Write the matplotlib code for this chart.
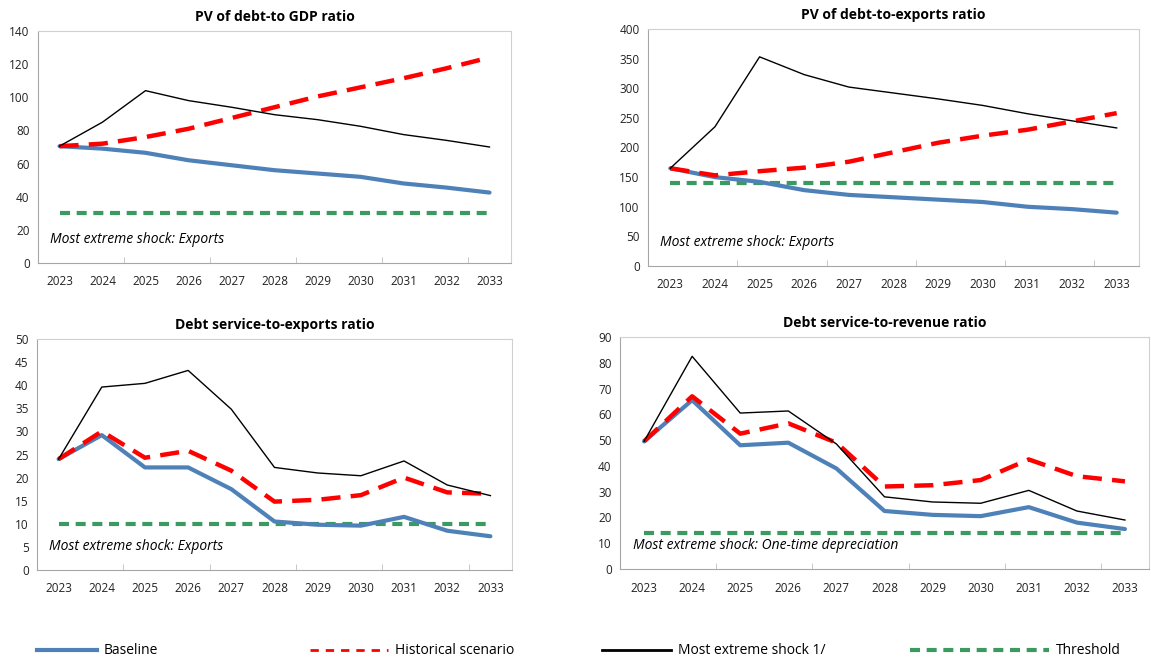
import matplotlib
matplotlib.use("Agg")
import matplotlib.pyplot as plt
from matplotlib.lines import Line2D
import numpy as np

plt.rcParams['font.family'] = ['Open Sans', 'DejaVu Sans']

years = [str(y) for y in range(2023, 2034)]

# PV of debt-to GDP ratio
gdp_baseline = [70.5, 69, 66.5, 62, 59, 56, 54, 52, 48, 45.5, 42.5]
gdp_hist = [70.5, 72, 76, 81, 87.5, 94, 100.5, 106, 111.5, 117.5, 124]
gdp_shock = [70.5, 85, 104, 98, 94, 89.5, 86.5, 82.5, 77.5, 74, 70]
gdp_threshold = [30] * 11

# PV of debt-to-exports ratio
exp_baseline = [165, 150, 142, 128, 120, 116, 112, 108, 100, 96, 90]
exp_hist = [165, 153, 160, 166, 176, 192, 208, 220, 230, 244, 258]
exp_shock = [165, 235, 353, 323, 302, 292, 282, 271, 257, 245, 233]
exp_threshold = [140] * 11

# Debt service-to-exports ratio
dse_baseline = [24, 29.2, 22.2, 22.2, 17.5, 10.5, 9.8, 9.6, 11.5, 8.5, 7.3]
dse_hist = [24, 30, 24.3, 25.8, 21.5, 14.8, 15.2, 16.2, 20, 16.8, 16.5]
dse_shock = [24, 39.6, 40.4, 43.2, 34.8, 22.2, 21, 20.4, 23.6, 18.4, 16.1]
dse_threshold = [10] * 11

# Debt service-to-revenue ratio
dsr_baseline = [49.5, 65.5, 48, 49, 39, 22.5, 21, 20.5, 24, 18, 15.5]
dsr_hist = [49.5, 67, 52.5, 56.5, 49, 32, 32.5, 34.5, 42.5, 36, 34]
dsr_shock = [49.5, 82.5, 60.5, 61.3, 48.5, 28, 26, 25.5, 30.5, 22.5, 19]
dsr_threshold = [14] * 11

BLUE = '#4f81b9'
RED = '#ff0000'
GREEN = '#3a9a60'

W, H = 1151, 663
fig = plt.figure(figsize=(W / 100, H / 100), dpi=100)


def px_axes(x0, x1, ytop, ybot):
    return fig.add_axes([x0 / W, 1 - ybot / H, (x1 - x0) / W, (ybot - ytop) / H])


def panel(ax, title, base, hist, shock, thr, ymax, ystep, note):
    x = np.arange(len(years))
    ax.plot(x, thr, color=GREEN, lw=3.0, dashes=(2.4, 1.6), dash_capstyle='butt')
    ax.plot(x, base, color=BLUE, lw=3.0, solid_joinstyle='round', solid_capstyle='round')
    ax.plot(x, hist, color=RED, lw=3.2, dashes=(4.3, 2.3), dash_capstyle='butt',
            dash_joinstyle='round')
    ax.plot(x, shock, color='black', lw=1.0)
    ax.set_xlim(-0.5, 10.5)
    ax.set_ylim(0, ymax)
    ax.set_yticks(np.arange(0, ymax + 0.1, ystep))
    ax.set_xticks(x)
    ax.set_xticklabels(years)
    ax.set_xticks([1.5, 3.5, 5.5, 7.5, 9.5], minor=True)
    ax.tick_params(axis='x', which='major', length=0, pad=9, labelsize=8.5, colors='#222222')
    ax.tick_params(axis='x', which='minor', length=4, direction='in', color='#bfbfbf')
    ax.tick_params(axis='y', length=0, pad=6, labelsize=8.5, colors='#222222')
    for s in ['left', 'bottom']:
        ax.spines[s].set_color('#a6a6a6')
    for s in ['top', 'right']:
        ax.spines[s].set_color('#d0d0d0')
    ax.set_title(title, fontsize=10, fontweight='bold', pad=7)
    ax.text(0.025, 0.10, note, transform=ax.transAxes, fontsize=10, style='italic',
            va='center', ha='left')


ax1 = px_axes(38, 511, 31, 263)
panel(ax1, 'PV of debt-to GDP ratio', gdp_baseline, gdp_hist, gdp_shock, gdp_threshold,
      140, 20, 'Most extreme shock: Exports')

ax2 = px_axes(648, 1139, 29, 266)
panel(ax2, 'PV of debt-to-exports ratio', exp_baseline, exp_hist, exp_shock, exp_threshold,
      400, 50, 'Most extreme shock: Exports')

ax3 = px_axes(37, 512, 339, 570)
panel(ax3, 'Debt service-to-exports ratio', dse_baseline, dse_hist, dse_shock, dse_threshold,
      50, 5, 'Most extreme shock: Exports')

ax4 = px_axes(620, 1149, 337, 569)
panel(ax4, 'Debt service-to-revenue ratio', dsr_baseline, dsr_hist, dsr_shock, dsr_threshold,
      90, 10, 'Most extreme shock: One-time depreciation')

# legend, one entry per block so each sits where it does in the source
legend_items = [
    (Line2D([], [], color=BLUE, lw=3.0), 'Baseline', 37, 4.3),
    (Line2D([], [], color=RED, lw=2.0, dashes=(3, 2.5)), 'Historical scenario', 310, 5.6),
    (Line2D([], [], color='black', lw=2.0), 'Most extreme shock 1/', 602, 5.0),
    (Line2D([], [], color=GREEN, lw=3.0, dashes=(2.4, 1.6)), 'Threshold', 910, 10.0),
]
for h, lab, xpx, hl in legend_items:
    fig.legend([h], [lab], loc='center left', bbox_to_anchor=(xpx / W, 1 - 651 / H),
               frameon=False, borderpad=0, borderaxespad=0, handlelength=hl,
               handletextpad=0.5, fontsize=10)

fig.savefig('out.png', dpi=100)
